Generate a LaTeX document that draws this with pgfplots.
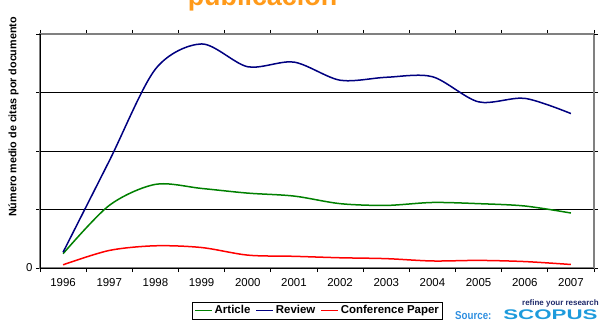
\documentclass[border=0pt]{standalone}
\usepackage{pgfplots}
\pgfplotsset{compat=1.18}
\usepackage{fontspec}
\setmainfont{Liberation Sans}
\definecolor{artgreen}{HTML}{008000}
\definecolor{revblue}{HTML}{000080}
\definecolor{confred}{HTML}{FF0000}
\definecolor{titorange}{HTML}{FF9A1A}
\definecolor{srcblue}{HTML}{2F8FE0}
\definecolor{scopusblue}{HTML}{1E9BDC}
\definecolor{navytext}{HTML}{1F2A6B}
\begin{document}
\begin{tikzpicture}[x=1bp,y=1bp]
\useasboundingbox (0,0) rectangle (603,324);
\node[anchor=base, text=titorange, font=\bfseries\fontsize{27}{30}\selectfont] at (262.5,319) {publicación};
\begin{axis}[
  at={(40bp,56bp)}, anchor=south west, scale only axis,
  width=554bp, height=234bp,
  xmin=-0.5, xmax=11.5, ymin=0, ymax=4,
  xtick={0,...,11},
  xticklabels={1996,1997,1998,1999,2000,2001,2002,2003,2004,2005,2006,2007},
  major x tick style={draw=none},
  minor xtick={-0.5,0.5,...,11.5},
  ytick={0,1,2,3}, yticklabels={0,,,},
  extra y ticks={4}, extra y tick labels={}, extra y tick style={grid=none},
  ymajorgrids, grid style={black, line width=0.8bp},
  tick align=outside, major tick length=4bp, minor tick length=4bp,
  tick style={black, line width=0.8bp},
  axis line style={draw=gray, line width=1.2bp},
  xticklabel style={font=\fontsize{11.5}{13}\selectfont, yshift=-3bp},
  yticklabel style={font=\fontsize{11.5}{13}\selectfont},
  /pgf/number format/assume math mode=true,
  legend columns=3,
  legend style={at={(0.501,-0.182)}, anchor=center, draw=black, line width=0.8bp,
    font=\bfseries\fontsize{11.5}{13}\selectfont, inner sep=1.5bp,
    /tikz/every even column/.append style={column sep=3bp}},
]
\addplot[artgreen, line width=1.5bp, smooth] coordinates {
(0,0.245) (1,1.07) (2,1.43) (3,1.36) (4,1.28) (5,1.23) (6,1.10) (7,1.07) (8,1.12) (9,1.10) (10,1.06) (11,0.94)};
\addlegendentry{Article}
\addplot[revblue, line width=1.5bp, smooth] coordinates {
(0,0.27) (1,1.83) (2,3.40) (3,3.83) (4,3.44) (5,3.52) (6,3.21) (7,3.26) (8,3.27) (9,2.84) (10,2.90) (11,2.64)};
\addlegendentry{Review}
\addplot[confred, line width=1.5bp, smooth] coordinates {
(0,0.055) (1,0.30) (2,0.38) (3,0.35) (4,0.22) (5,0.20) (6,0.175) (7,0.16) (8,0.12) (9,0.13) (10,0.11) (11,0.06)};
\addlegendentry{Conference Paper}
\draw[black, line width=1bp] (rel axis cs:0,1) -- (rel axis cs:0,0) -- (rel axis cs:1,0);
\end{axis}
\node[rotate=90, font=\bfseries\fontsize{10.8}{12}\selectfont] at (13.5,207) {Número medio de citas por documento};
\node[anchor=base west, inner sep=0, text=srcblue, font=\bfseries\fontsize{11.5}{12}\selectfont, xscale=0.85] at (455,5) {Source:};
\node[anchor=base west, inner sep=0, text=scopusblue, font=\bfseries\fontsize{14}{15}\selectfont, xscale=1.6] at (503,5) {SCOPUS};
\node[anchor=base east, inner sep=0, text=navytext, font=\bfseries\fontsize{8}{9}\selectfont] at (599,19) {refine your research};
\end{tikzpicture}
\end{document}
